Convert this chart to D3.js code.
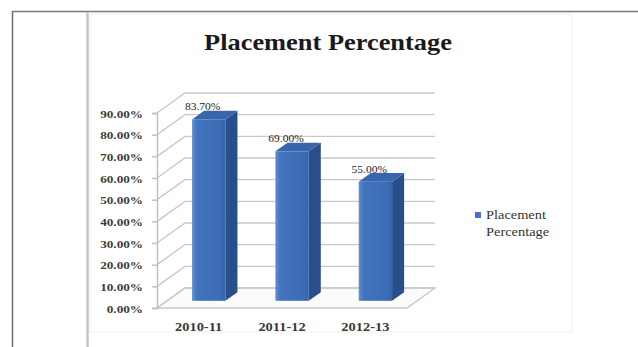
<!DOCTYPE html>
<html>
<head>
<meta charset="utf-8">
<script src="https://cdn.jsdelivr.net/npm/d3@7"></script>
<style>
  html, body { margin: 0; padding: 0; background: #fff; }
  svg { display: block; }
  text { font-family: "Liberation Serif", "Times New Roman", serif; }
</style>
</head>
<body>
<svg id="chart" width="638" height="347"></svg>
<script>
// Placement percentage per academic year
const years = ["2010-11", "2011-12", "2012-13"];
const placement = [0.837, 0.69, 0.55];
const tickValues = [0, 0.1, 0.2, 0.3, 0.4, 0.5, 0.6, 0.7, 0.8, 0.9];
const seriesName = "Placement Percentage";

const svg = d3.select("#chart");

// Page frame: table rule and cell divider
svg.append("line").attr("x1", 12).attr("x2", 638).attr("y1", 11.5).attr("y2", 11.5)
  .attr("stroke", "#7a7a7a").attr("stroke-width", 1.5);
svg.append("line").attr("x1", 12.5).attr("x2", 12.5).attr("y1", 11).attr("y2", 347)
  .attr("stroke", "#6e6e6e").attr("stroke-width", 1.5);
svg.append("line").attr("x1", 87.5).attr("x2", 87.5).attr("y1", 12).attr("y2", 347)
  .attr("stroke", "#c4c4c4").attr("stroke-width", 2.5);

// Faint chart-area outline
svg.append("rect").attr("x", 90).attr("y", 14).attr("width", 482).attr("height", 318)
  .attr("fill", "none").attr("stroke", "#f0f0f0").attr("stroke-width", 1);

// helper: horizontally widened text anchored at (x, y)
function wideText(g, x, y, sx) {
  return g.append("text").attr("transform", `translate(${x},${y}) scale(${sx},1)`);
}

// Title
wideText(svg, 328, 50, 1.1)
  .attr("text-anchor", "middle").attr("font-size", 24).attr("font-weight", "bold")
  .attr("fill", "#1a1a1a").text(seriesName);

// Scales (front plane of the 3D box)
const x = d3.scaleBand().domain(years).range([157, 407]).paddingInner(0.6).paddingOuter(0.3);
const y = d3.scaleLinear().domain([0, 0.9]).range([308, 113]);
const DX = 28, DY = -20;          // full depth offset of the box
const fFront = 0.36, fDepth = 0.43; // bar position inside the depth

const grid = svg.append("g");
const gridColor = "#c9c9c9";

// Floor
const y0 = y(0);
grid.append("path")
  .attr("d", `M${157},${y0} L${407},${y0} L${407 + DX},${y0 + DY} L${157 + DX},${y0 + DY} Z`)
  .attr("fill", "#fbfbfb").attr("stroke", gridColor).attr("stroke-width", 1.4);

// Gridlines on side wall and back wall
tickValues.forEach(v => {
  const yy = y(v);
  grid.append("path")
    .attr("d", `M157,${yy} L${157 + DX},${yy + DY} L${407 + DX},${yy + DY}`)
    .attr("fill", "none").attr("stroke", gridColor).attr("stroke-width", 1.4);
});

// Vertical axis line with ticks
const yAxis = d3.axisLeft(y).tickValues(tickValues).tickSize(5).tickFormat(d3.format(".2%"));
const axisG = svg.append("g").attr("transform", "translate(157,0)").call(yAxis);
axisG.select(".domain").attr("stroke", "#bdbdbd").attr("stroke-width", 1.4);
axisG.selectAll(".tick line").attr("stroke", "#bdbdbd").attr("stroke-width", 1.4);
axisG.selectAll(".tick text").remove();
axisG.selectAll(".tick").each(function(d) {
  wideText(d3.select(this), -14, 4, 1.2)
    .attr("text-anchor", "end").attr("font-size", 11).attr("font-weight", "bold")
    .attr("fill", "#3a3a3a").text(d3.format(".2%")(d));
});

// Bar colours
const defs = svg.append("defs");
const frontGrad = defs.append("linearGradient").attr("id", "front").attr("x1", 0).attr("x2", 1).attr("y1", 0).attr("y2", 0);
frontGrad.append("stop").attr("offset", 0).attr("stop-color", "#5f8fd3");
frontGrad.append("stop").attr("offset", 0.15).attr("stop-color", "#4274bd");
frontGrad.append("stop").attr("offset", 0.85).attr("stop-color", "#3b6cb5");
frontGrad.append("stop").attr("offset", 1).attr("stop-color", "#3563a8");

const bars = svg.append("g");
years.forEach((yr, i) => {
  const v = placement[i];
  const bw = x.bandwidth();
  const x0 = x(yr) + DX * fFront;
  const yb = y(0) + DY * fFront;
  const yt = y(v) + DY * fFront;
  const dx = DX * fDepth, dy = DY * fDepth;
  // side face
  bars.append("path")
    .attr("d", `M${x0 + bw},${yt} L${x0 + bw + dx},${yt + dy} L${x0 + bw + dx},${yb + dy} L${x0 + bw},${yb} Z`)
    .attr("fill", "#284f8c");
  // top face
  bars.append("path")
    .attr("d", `M${x0},${yt} L${x0 + dx},${yt + dy} L${x0 + bw + dx},${yt + dy} L${x0 + bw},${yt} Z`)
    .attr("fill", "#3866ad");
  // front face
  bars.append("rect").attr("x", x0).attr("y", yt).attr("width", bw).attr("height", yb - yt)
    .attr("fill", "url(#front)");
  // value label
  wideText(bars, x(yr) + bw / 2 + 4, yt - 9, 1.15)
    .attr("text-anchor", "middle").attr("font-size", 10).attr("fill", "#222")
    .text(d3.format(".2%")(v));
});

// Category labels
const xAxis = d3.axisBottom(x).tickSize(0);
const xg = svg.append("g").attr("transform", `translate(0,${y(0)})`).call(xAxis);
xg.select(".domain").remove();
xg.selectAll(".tick text").remove();
xg.selectAll(".tick").each(function(d) {
  wideText(d3.select(this), 0, 23, 1.2)
    .attr("text-anchor", "middle").attr("font-size", 12).attr("font-weight", "bold")
    .attr("fill", "#3a3a3a").text(d);
});

// Legend
const legend = svg.append("g");
legend.append("rect").attr("x", 475).attr("y", 212).attr("width", 6).attr("height", 6).attr("fill", "#4472c4");
const words = seriesName.split(" ");
words.forEach((w, i) => {
  wideText(legend, 486, 219 + i * 17, 1.2)
    .attr("font-size", 12).attr("fill", "#333").text(w);
});
</script>
</body>
</html>
